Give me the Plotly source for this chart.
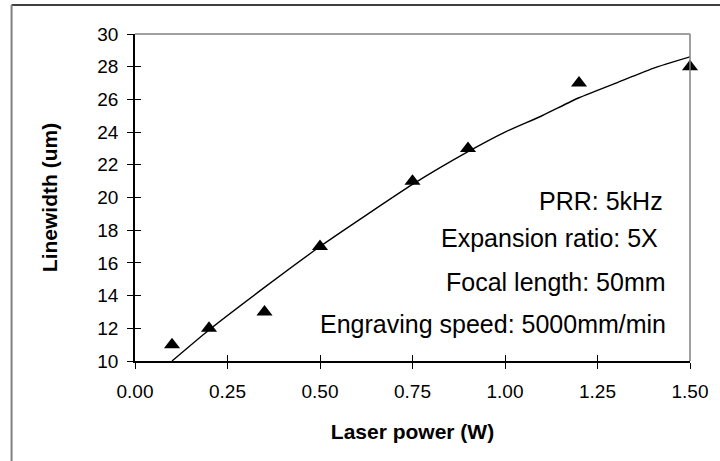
import plotly.graph_objects as go

# Measured data (triangles)
power_w = [0.10, 0.20, 0.35, 0.50, 0.75, 0.90, 1.20, 1.50]
linewidth_um = [11, 12, 13, 17, 21, 23, 27, 28]

# Fitted curve
curve_x = [0.10, 0.20, 0.35, 0.50, 0.63, 0.75, 0.90, 1.00, 1.10, 1.20, 1.30, 1.40, 1.50]
curve_y = [10.0, 11.9, 14.5, 17.0, 19.0, 20.8, 22.8, 24.0, 25.0, 26.1, 27.0, 27.9, 28.6]

x_ticks = [0.0, 0.25, 0.5, 0.75, 1.0, 1.25, 1.5]
y_ticks = [10, 12, 14, 16, 18, 20, 22, 24, 26, 28, 30]

notes = ["PRR: 5kHz", "Expansion ratio: 5X", "Focal length: 50mm", "Engraving speed: 5000mm/min"]
note_x = [1.4325, 1.419, 1.441, 1.441]
note_y = [19.79, 17.52, 14.83, 12.29]

FONT = "Liberation Sans, Arial, sans-serif"

fig = go.Figure()
fig.add_trace(go.Scatter(x=curve_x, y=curve_y, mode="lines",
                         line=dict(color="black", width=1.4, shape="spline", smoothing=0.6),
                         showlegend=False, hoverinfo="skip"))
fig.add_trace(go.Scatter(x=power_w, y=linewidth_um, mode="markers", cliponaxis=False,
                         marker=dict(symbol="triangle-up", size=14, color="black"),
                         showlegend=False))
# dummy trace for overlay axes (crossing ticks)
fig.add_trace(go.Scatter(x=[None], y=[None], xaxis="x2", yaxis="y2", showlegend=False))

for t, xx, yy in zip(notes, note_x, note_y):
    fig.add_annotation(x=xx, y=yy, xref="x", yref="y", text=t, showarrow=False,
                       xanchor="right", yanchor="middle",
                       font=dict(family=FONT, size=25, color="black"))

axis_common = dict(showgrid=False, zeroline=False)
fig.update_layout(
    width=720, height=461,
    margin=dict(l=135, r=23, t=34, b=100),
    paper_bgcolor="white", plot_bgcolor="white",
    font=dict(family=FONT, color="black"),
    xaxis=dict(range=[0, 1.5], tickvals=x_ticks, tickformat=".2f",
               ticks="outside", ticklen=6, tickwidth=1.2, tickcolor="black",
               ticklabelstandoff=6,
               showline=True, linecolor="black", linewidth=1.5,
               tickfont=dict(size=19, family=FONT),
               title=dict(text="<b>Laser power (W)</b>", font=dict(size=21, family=FONT), standoff=24),
               **axis_common),
    yaxis=dict(range=[10, 30], tickvals=y_ticks,
               ticks="outside", ticklen=6, tickwidth=1.2, tickcolor="black",
               ticklabelstandoff=5,
               showline=True, linecolor="black", linewidth=1.5,
               tickfont=dict(size=19, family=FONT),
               title=dict(text="<b>Linewidth (um)</b>", font=dict(size=21, family=FONT), standoff=34),
               **axis_common),
    xaxis2=dict(range=[0, 1.5], tickvals=x_ticks, overlaying="x", anchor="y2", side="bottom",
                ticks="inside", ticklen=6, tickwidth=1.2, tickcolor="black",
                showticklabels=False, showline=False, **axis_common),
    yaxis2=dict(range=[10, 30], tickvals=y_ticks, overlaying="y", anchor="x2", side="left",
                ticks="inside", ticklen=6, tickwidth=1.2, tickcolor="black",
                showticklabels=False, showline=False, **axis_common),
    shapes=[
        # plot area border top / right (gray)
        dict(type="line", xref="paper", yref="paper", x0=0, x1=1, y0=1, y1=1,
             line=dict(color="#808080", width=1.5)),
        dict(type="line", xref="paper", yref="paper", x0=1, x1=1, y0=0, y1=1,
             line=dict(color="#808080", width=1.5)),
        # outer chart frame
        dict(type="line", xref="paper", yref="paper", x0=-0.2224, x1=1.1, y0=1.0887, y1=1.0887,
             line=dict(color="black", width=1.5)),
        dict(type="line", xref="paper", yref="paper", x0=-0.2224, x1=-0.2224, y0=-0.4, y1=1.0887,
             line=dict(color="#808080", width=2)),
    ],
)

fig.write_html("out.html")
